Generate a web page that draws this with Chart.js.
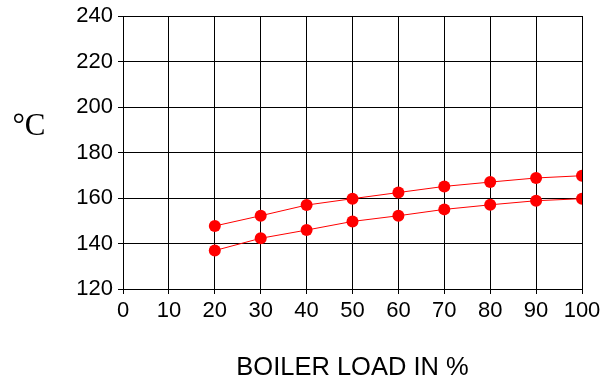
<!DOCTYPE html>
<html>
<head>
<meta charset="utf-8">
<script src="https://cdn.jsdelivr.net/npm/chart.js@4/dist/chart.umd.min.js"></script>
<style>
  html, body { margin: 0; padding: 0; background: #fff; }
  #wrap { width: 612px; height: 378px; position: relative; }
</style>
</head>
<body>
<div id="wrap"><canvas id="c" width="612" height="378"></canvas></div>
<script>
const loads = [20, 30, 40, 50, 60, 70, 80, 90, 100];
const upperTemps = [147.7, 152.2, 156.9, 159.7, 162.4, 165.1, 167.0, 168.8, 169.8];
const lowerTemps = [136.9, 142.3, 145.9, 149.7, 152.2, 155.0, 157.0, 158.8, 159.7];
const xTickValues = [0, 10, 20, 30, 40, 50, 60, 70, 80, 90, 100];
const yTickValues = [120, 140, 160, 180, 200, 220, 240];
const xTitle = 'BOILER LOAD IN %';
const yUnit = '\u00B0C';

const toPts = (xs, ys) => xs.map((x, i) => ({ x: x, y: ys[i] }));

const unitLabel = {
  id: 'unitLabel',
  afterDraw(chart) {
    const ctx = chart.ctx;
    ctx.save();
    ctx.fillStyle = '#000';
    ctx.font = '31px "Liberation Serif", "Times New Roman", serif';
    ctx.textAlign = 'center';
    ctx.textBaseline = 'middle';
    ctx.fillText(yUnit, 29, 127);
    ctx.restore();
  }
};

const dsStyle = {
  borderColor: '#ff0000',
  backgroundColor: '#ff0000',
  pointBackgroundColor: '#ff0000',
  pointBorderColor: '#ff0000',
  borderWidth: 1,
  pointRadius: 6,
  pointBorderWidth: 0,
  tension: 0,
  showLine: true
};

new Chart(document.getElementById('c'), {
  type: 'scatter',
  data: {
    datasets: [
      Object.assign({ label: 'upper', data: toPts(loads, upperTemps) }, dsStyle),
      Object.assign({ label: 'lower', data: toPts(loads, lowerTemps) }, dsStyle)
    ]
  },
  options: {
    responsive: false,
    animation: false,
    devicePixelRatio: 1,
    layout: { padding: { top: 16, right: 30, left: 0, bottom: 0 } },
    plugins: { legend: { display: false }, tooltip: { enabled: false } },
    scales: {
      x: {
        type: 'linear',
        min: 0, max: 100,
        afterBuildTicks(scale) { scale.ticks = xTickValues.map(v => ({ value: v })); },
        afterFit(scale) { scale.height = 89; },
        grid: { color: '#000', lineWidth: 1, tickLength: 5, drawTicks: true },
        border: { color: '#000', width: 1 },
        ticks: {
          color: '#000', padding: 4,
          font: { family: '"Liberation Sans", Arial, sans-serif', size: 22 },
          maxRotation: 0, autoSkip: false
        },
        title: {
          display: true, text: xTitle, color: '#000',
          font: { family: '"Liberation Sans", Arial, sans-serif', size: 25.5 },
          padding: { top: 0, bottom: -5 }
        }
      },
      y: {
        type: 'linear',
        min: 120, max: 240,
        afterBuildTicks(scale) { scale.ticks = yTickValues.map(v => ({ value: v })); },
        afterFit(scale) { scale.width = 123; scale.paddingTop = 0; scale.paddingBottom = 0; },
        grid: { color: '#000', lineWidth: 1, tickLength: 5, drawTicks: true },
        border: { color: '#000', width: 1 },
        ticks: {
          color: '#000', padding: 5,
          font: { family: '"Liberation Sans", Arial, sans-serif', size: 22 },
          autoSkip: false
        }
      }
    }
  },
  plugins: [unitLabel]
});
</script>
</body>
</html>
